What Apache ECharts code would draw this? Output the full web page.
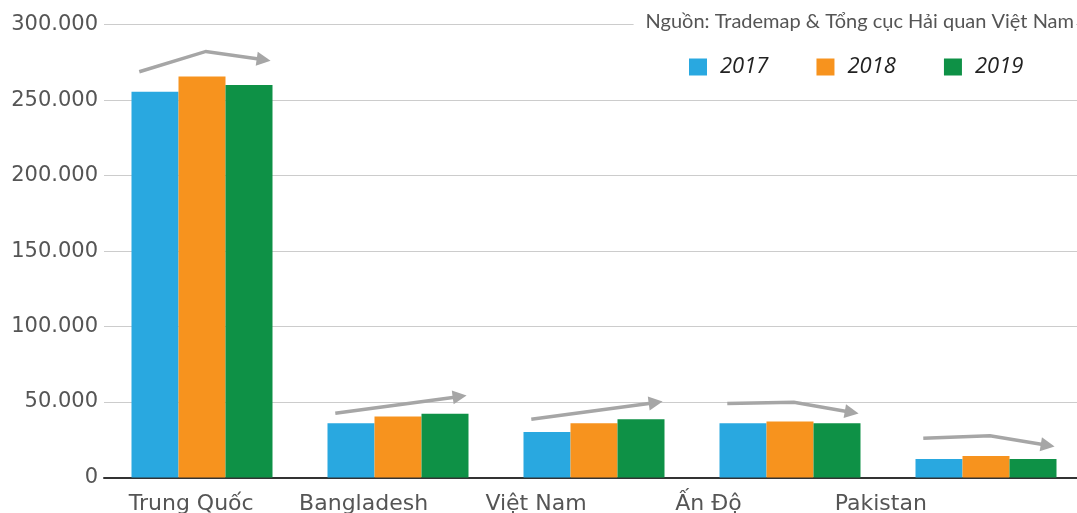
<!DOCTYPE html>
<html>
<head>
<meta charset="utf-8">
<script src="https://cdn.jsdelivr.net/npm/echarts@6/dist/echarts.min.js"></script>
<style>
html,body{margin:0;padding:0;background:#fff;}
#chart{width:1077px;height:513px;}
</style>
</head>
<body>
<div id="chart"></div>
<script>
const categories = ['Trung Quốc', 'Bangladesh', 'Việt Nam', 'Ấn Độ', 'Pakistan'];
const years = ['2017', '2018', '2019'];
const values2017 = [255500, 36000, 30200, 36000, 12300];
const values2018 = [265700, 40400, 36000, 37100, 14300];
const values2019 = [260000, 42200, 38600, 36000, 12300];
// trend arrows drawn above each group (start, optional bend, arrow tip)
const trendStart = [268800, 42600, 38600, 49000, 26000];
const trendBend  = [282300, null, null, 49900, 27600];
const trendEnd   = [276100, 54300, 50300, 42400, 20500];
const yTicks = [0, 50000, 100000, 150000, 200000, 250000, 300000];
const sourceText = 'Nguồn: Trademap & Tổng cục Hải quan Việt Nam';

const colors = ['#29a8e0', '#f7931e', '#0e9146'];
const fmt = v => v === 0 ? '0' : String(v).replace(/\B(?=(\d{3})+(?!\d))/g, '.');

const chart = echarts.init(document.getElementById('chart'));

const trendData = categories.map((c, i) => [i, trendStart[i], trendBend[i] == null ? '-' : trendBend[i], trendEnd[i]]);

function renderArrow(params, api) {
  const i = api.value(0);
  const pts = [api.coord([i - 0.32, api.value(1)])];
  const bend = api.value(2);
  if (!isNaN(bend)) pts.push(api.coord([i + 0.02, bend]));
  const tip = api.coord([i + 0.35, api.value(3)]);
  const prev = pts[pts.length - 1];
  let dx = tip[0] - prev[0], dy = tip[1] - prev[1];
  const len = Math.sqrt(dx * dx + dy * dy);
  dx /= len; dy /= len;
  const L = 14, W = 7;
  const base = [tip[0] - dx * L, tip[1] - dy * L];
  const nx = -dy, ny = dx;
  pts.push([base[0] + dx * 2, base[1] + dy * 2]);
  return {
    type: 'group',
    children: [
      { type: 'polyline', shape: { points: pts }, style: { stroke: '#a6a6a6', lineWidth: 3.5, fill: null } },
      { type: 'polygon', shape: { points: [tip, [base[0] + nx * W, base[1] + ny * W], [base[0] - nx * W, base[1] - ny * W]] }, style: { fill: '#a6a6a6' } }
    ]
  };
}

const option = {
  animation: false,
  backgroundColor: '#fff',
  title: {
    text: sourceText,
    right: 1,
    top: 12,
    padding: [0, 2, 0, 12],
    backgroundColor: '#fff',
    textStyle: { fontFamily: 'Lato', fontSize: 20, fontWeight: 'normal', color: '#555' }
  },
  legend: {
    data: years,
    left: 684,
    top: 51,
    icon: 'rect',
    itemWidth: 18,
    itemHeight: 17,
    itemGap: 48,
    textStyle: { fontFamily: 'Open Sans', fontStyle: 'italic', fontSize: 22, color: '#222', padding: [0, 0, 0, 8] }
  },
  grid: [
    { left: 104, width: 980, top: 24.7, bottom: 35.5, outerBoundsMode: 'none', containLabel: false },
    { left: 105, width: 862, top: 24.7, bottom: 35.5, outerBoundsMode: 'none', containLabel: false }
  ],
  xAxis: [
    {
      type: 'category', gridIndex: 0, data: categories,
      axisLine: { lineStyle: { color: '#333', width: 2 } },
      axisTick: { show: false }, axisLabel: { show: false }
    },
    {
      type: 'category', gridIndex: 1, data: categories,
      axisLine: { show: false }, axisTick: { show: false },
      axisLabel: { margin: 16, fontFamily: 'DejaVu Sans', fontSize: 22, color: '#555' }
    },
    { type: 'value', gridIndex: 0, min: -0.5, max: 4.5, show: false }
  ],
  yAxis: [
    {
      type: 'value', gridIndex: 0, min: yTicks[0], max: yTicks[yTicks.length - 1], interval: yTicks[1] - yTicks[0],
      axisLine: { show: false }, axisTick: { show: false },
      splitLine: { lineStyle: { color: '#cccccc', width: 1 } },
      axisLabel: { margin: 6, fontFamily: 'DejaVu Sans', fontSize: 21, color: '#555', formatter: fmt }
    },
    { type: 'value', gridIndex: 1, show: false }
  ],
  series: [
    { name: years[0], type: 'bar', xAxisIndex: 0, yAxisIndex: 0, data: values2017, barWidth: 47, barGap: '0%', itemStyle: { color: colors[0] } },
    { name: years[1], type: 'bar', xAxisIndex: 0, yAxisIndex: 0, data: values2018, barWidth: 47, barGap: '0%', itemStyle: { color: colors[1] } },
    { name: years[2], type: 'bar', xAxisIndex: 0, yAxisIndex: 0, data: values2019, barWidth: 47, barGap: '0%', itemStyle: { color: colors[2] } },
    {
      type: 'custom', xAxisIndex: 2, yAxisIndex: 0, data: trendData,
      dimensions: ['i', 'start', 'bend', 'end'],
      encode: { x: 0, y: [1, 2, 3] },
      renderItem: renderArrow, clip: false, silent: true, z: 5
    }
  ]
};
chart.setOption(option);
</script>
</body>
</html>
